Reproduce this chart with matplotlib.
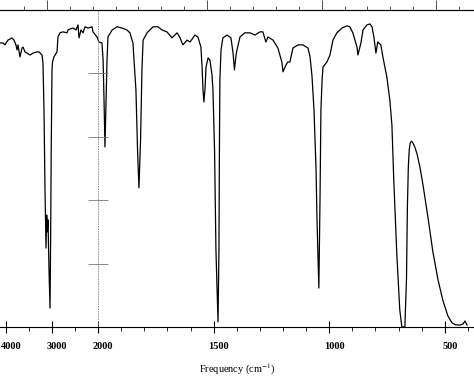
import numpy as np
import matplotlib
matplotlib.use("Agg")
import matplotlib.pyplot as plt
import matplotlib.transforms as mtransforms

# IR spectrum (wavenumber in cm-1, transmittance in %)
wavenumber = [4130, 4065, 4022, 3957, 3870, 3826, 3783, 3761, 3739, 3696,
              3652, 3630, 3587, 3544, 3478, 3413, 3326, 3283, 3217, 3196,
              3174, 3152, 3130, 3115, 3102, 3087, 3065, 3043, 3030, 3017,
              3000, 2989, 2957, 2891, 2870, 2826, 2761, 2674, 2652, 2609,
              2543, 2478, 2435, 2413, 2370, 2326, 2283, 2217, 2130, 2109,
              2022, 1996, 1983, 1978, 1974, 1970, 1965, 1961, 1957, 1939,
              1918, 1896, 1875, 1862, 1849, 1836, 1829, 1823, 1816, 1810,
              1805, 1788, 1762, 1741, 1723, 1702, 1680, 1658, 1645, 1633,
              1615, 1602, 1581, 1568, 1555, 1550, 1546, 1542, 1537, 1533,
              1524, 1516, 1507, 1503, 1496, 1490, 1481, 1477, 1475, 1473,
              1468, 1460, 1442, 1425, 1416, 1410, 1403, 1399, 1386, 1365,
              1343, 1321, 1300, 1287, 1274, 1265, 1243, 1222, 1205, 1200,
              1187, 1179, 1170, 1157, 1135, 1114, 1092, 1083, 1075, 1066,
              1057, 1053, 1045, 1040, 1038, 1036, 1031, 1027, 1010, 997,
              984, 967, 945, 924, 911, 898, 880, 876, 863, 854,
              837, 824, 815, 807, 798, 794, 790, 777, 768, 751,
              738, 729, 721, 708, 695, 686, 673, 666, 662, 658,
              654, 650, 645, 640, 630, 620, 608, 595, 573, 552,
              530, 509, 487, 470, 455, 435, 422, 413, 404]
transmittance = [89.6, 89.6, 89.0, 90.5, 91.2, 90.5, 89.0, 87.4, 89.0, 85.2,
                 88.0, 88.3, 86.8, 86.4, 85.8, 86.4, 86.8, 86.8, 85.8, 83.3,
                 68.5, 43.2, 24.9, 35.3, 30.0, 33.8, 18.0, 6.0, 27.4, 55.8,
                 81.1, 83.6, 85.2, 86.8, 91.5, 92.8, 93.1, 92.8, 93.7, 94.0,
                 94.3, 93.7, 95.3, 91.2, 93.7, 92.8, 94.7, 94.3, 94.7, 93.1,
                 91.5, 89.9, 89.6, 84.2, 71.6, 56.8, 71.6, 84.2, 91.5, 93.7,
                 94.7, 94.3, 93.7, 92.8, 89.6, 74.8, 55.8, 43.9, 59.0, 81.1,
                 90.5, 92.8, 94.7, 94.7, 93.7, 93.1, 91.2, 92.8, 91.2, 89.0,
                 90.5, 89.9, 92.1, 91.5, 88.3, 82.0, 74.8, 71.0, 75.4, 82.0,
                 84.9, 84.2, 79.5, 74.8, 55.8, 24.3, 1.6, 24.3, 55.8, 77.9,
                 87.4, 91.2, 92.1, 91.2, 86.4, 81.1, 85.8, 87.4, 91.5, 92.8,
                 92.8, 92.1, 93.1, 93.1, 89.9, 91.5, 90.5, 88.0, 83.6, 80.5,
                 82.7, 83.6, 83.6, 88.0, 89.0, 89.0, 88.0, 85.2, 79.5, 68.5,
                 49.5, 33.8, 12.3, 40.0, 55.8, 68.5, 77.9, 82.0, 83.6, 85.8,
                 90.5, 92.8, 94.3, 95.0, 94.7, 92.8, 88.3, 85.8, 89.6, 93.7,
                 95.3, 95.6, 94.7, 91.5, 86.4, 88.3, 89.9, 89.0, 85.2, 78.9,
                 71.6, 63.7, 46.4, 23.3, 5.4, 0.0, 0.0, 15.0, 38.0, 50.5,
                 56.0, 58.0, 58.6, 58.3, 56.8, 54.5, 50.5, 45.0, 34.5, 23.8,
                 15.0, 8.5, 3.5, 1.4, 0.7, 0.6, 0.9, 1.9, 0.6]

major_ticks = [4000, 3000, 2000, 1500, 1000, 500]
major_labels = ["4000", "3000", "2000", "1500", "1000", "500"]
minor_ticks = [3500, 2500] + [w for w in range(1900, 399, -100) if w % 500]
grid_levels = [20, 40, 60, 80]

# chart paper: 4000-2000 is compressed about 5x compared with 2000-400
ratio = 0.199


def forward(w):
    w = np.asarray(w, dtype=float)
    return np.where(w > 2000, 2000 + (w - 2000) * ratio, w)


def inverse(p):
    p = np.asarray(p, dtype=float)
    return np.where(p > 2000, 2000 + (p - 2000) / ratio, p)


plt.rcParams['font.family'] = ['Liberation Serif', 'DejaVu Serif']
plt.rcParams['mathtext.fontset'] = 'stix'

fig = plt.figure(figsize=(4.74, 3.77), dpi=100)
ax = fig.add_axes([0, 50 / 377, 1, 317 / 377])
ax.set_xscale('function', functions=(forward, inverse))
ax.set_xlim(4130, 374)
ax.set_ylim(0, 100)

ax.plot(wavenumber, transmittance, color='black', lw=0.9)

# the 2000 line of the chart paper with its short %T marks
ax.axvline(2000, color='#888888', lw=0.6, ls=(0, (2, 1)))
ax.plot([2000] * len(grid_levels), grid_levels, ls='none', marker='_',
        markersize=15, mew=0.6, color='#777777')

for side in ['left', 'right']:
    ax.spines[side].set_visible(False)
ax.spines['bottom'].set_linewidth(0.8)
ax.spines['top'].set_linewidth(0.8)
ax.spines['top'].set_color('#333333')

ax.set_yticks([])
ax.set_xticks(major_ticks)
ax.set_xticklabels(major_labels, fontsize=7.5, fontweight='bold')
ax.set_xticks(minor_ticks, minor=True)
ax.tick_params(axis='x', which='major', direction='inout', length=8,
               width=0.8, pad=7)
ax.tick_params(axis='x', which='minor', direction='out', length=3, width=0.6)
ax.set_xlabel('Frequency (cm$^{-1}$)', fontsize=7.5, labelpad=8)

# the printed labels sit a little right of their ticks
shift = mtransforms.ScaledTranslation(5 / 100, 0, fig.dpi_scale_trans)
for lbl in ax.get_xticklabels():
    lbl.set_transform(lbl.get_transform() + shift)

# uniform tick marks along the top edge of the chart paper
top = ax.twiny()
top.set_xlim(0, 474)
top_pos = np.arange(24, 474, 22.9)
long_idx = [1, 8, 13, 18]
top.set_xticks([p for i, p in enumerate(top_pos) if i in long_idx])
top.set_xticks([p for i, p in enumerate(top_pos) if i not in long_idx],
               minor=True)
top.set_xticklabels([])
top.tick_params(axis='x', which='major', direction='out', length=7,
                width=0.6, colors='#333333')
top.tick_params(axis='x', which='minor', direction='out', length=3,
                width=0.6, colors='#333333')
for side in ['left', 'right', 'bottom']:
    top.spines[side].set_visible(False)

fig.savefig('out.png', dpi=100)
